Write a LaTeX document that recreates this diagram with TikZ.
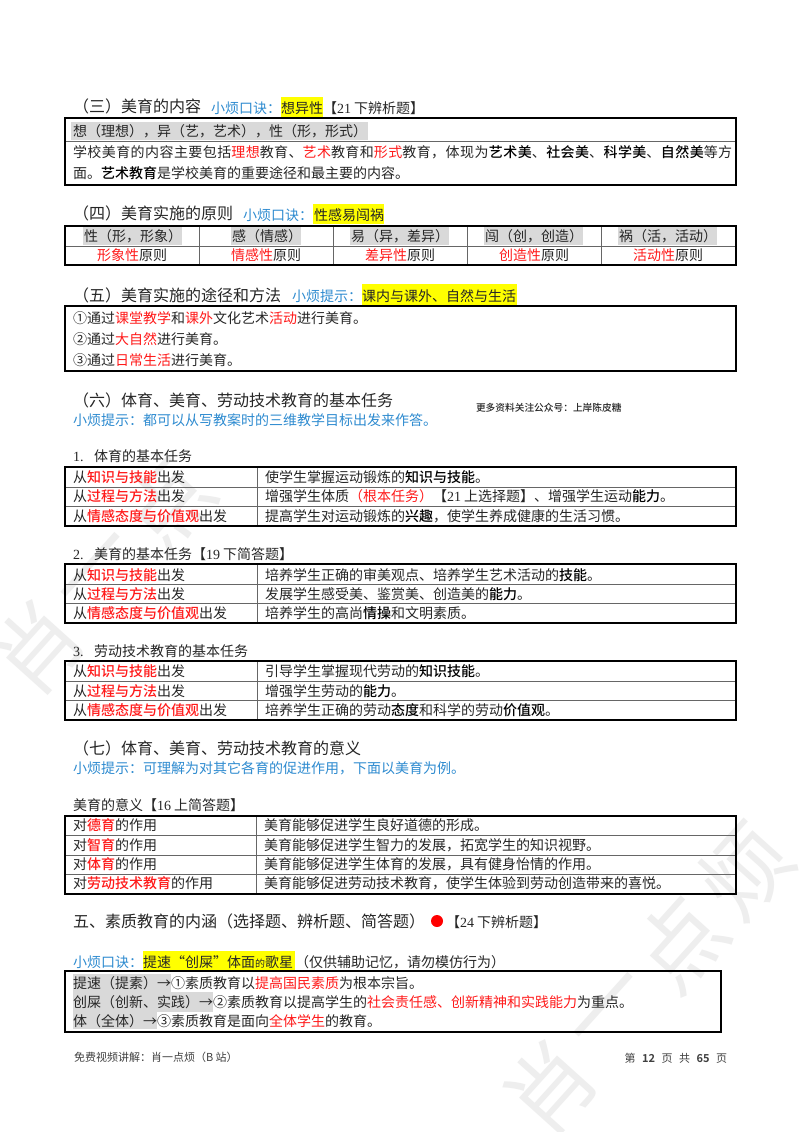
\documentclass[tikz,border=0pt]{standalone}
\usepackage{fontspec}
\setmainfont{Noto Sans CJK SC}[BoldFont={Noto Sans CJK SC Medium}]
\newfontfamily\lat{Liberation Serif}
\newfontfamily\spaced[LetterSpace=3.1,BoldFont={Noto Sans CJK SC Medium}]{Noto Sans CJK SC}
\newfontfamily\footbold{Noto Sans CJK SC Bold}
\definecolor{bodyc}{HTML}{262626}
\definecolor{redc}{HTML}{FF1A1A}
\definecolor{bluec}{HTML}{2E8BD0}
\definecolor{grayh}{HTML}{D9D9D9}
\definecolor{yel}{HTML}{FFFF00}
\definecolor{wm}{HTML}{EEEEEE}
\newcommand\Rd[1]{\textcolor{redc}{#1}}
\newcommand\RB[1]{\textbf{\textcolor{redc}{#1}}}
\newcommand\Bo[1]{\textbf{\textcolor{black}{#1}}}
\newcommand\Lt[1]{{\lat #1}}
\tikzset{
  txt/.style={anchor=base west,inner sep=0pt,outer sep=0pt,text=bodyc,font=\fontsize{14}{16}\selectfont},
  head/.style={txt,font=\fontsize{16}{18}\selectfont},
  tip/.style={txt,text=bluec},
  small/.style={txt,font=\fontsize{9.7}{11}\selectfont\bfseries},
  foot/.style={txt,text=black!75,font=\fontsize{11}{13}\selectfont},
  outer/.style={draw=black,line width=2pt},
  inner/.style={draw=black!60,line width=1pt},
  mark yellow/.style={fill=yel},
  mark gray/.style={fill=grayh},
  watermark/.style={anchor=center,inner sep=0pt,text=wm,rotate=48,font=\fontsize{88}{90}\selectfont},
}
\newcommand\Tx[3]{\node[txt] at (#1,{#2+5.2}) {#3};}
\newcommand\Hd[3]{\node[head] at (#1,{#2+5.8}) {#3};}
\newcommand\Tp[3]{\node[tip] at (#1,{#2+5.2}) {#3};}
\newcommand\Cc[3]{\node[txt,anchor=base] at (#1,{#2+5.2}) {#3};}
\newcommand\Yb[4]{\fill[mark yellow] (#1,#3) rectangle (#2,#4);}
\newcommand\Gb[4]{\fill[mark gray] (#1,#3) rectangle (#2,#4);}
% x1 x2 y1 y2 inner-ys col-x
\newcommand\Grid[6]{%
  \foreach \yy in {#5} {\draw[inner] (#1,\yy) -- (#2,\yy);}
  \draw[inner] (#6,#3) -- (#6,#4);
  \draw[outer] (#1,#3) rectangle (#2,#4);}
\newcommand\Threefold[3]{%
  \Tx{73}{#1}{从\RB{知识与技能}出发}
  \Tx{73}{#2}{从\RB{过程与方法}出发}
  \Tx{73}{#3}{从\RB{情感态度与价值观}出发}}
\begin{document}
\begin{tikzpicture}[x=1pt,y=-1pt]
\useasboundingbox (0,0) rectangle (800,1132);
\fill[white] (0,0) rectangle (800,1132);
% watermarks
\begin{scope}
\clip (0,0) rectangle (800,1132);
\node[watermark] (wa1) at (37,647) {肖};
\node[watermark] (wa2) at (102,575) {一};
\node[watermark] (wa3) at (167,503) {点};
\node[watermark] (wb1) at (550,1087) {肖};
\node[watermark] (wb2) at (615,1015) {一};
\node[watermark] (wb3) at (680,943) {点};
\node[watermark] (wb4) at (745,871) {烦};
\end{scope}

% section three
\Yb{281}{323}{97}{117}
\Hd{73}{107}{（三）美育的内容}
\Tp{211}{108}{小烦口诀：}
\Tx{281}{108}{想异性}
\Tx{323}{108}{【\Lt{21} 下辨析题】}
\Gb{71}{368}{122}{140}
\draw[inner] (65,141) -- (736,141);
\draw[outer] (65,118) rectangle (736,185);
\Tx{73}{131}{想（理想），异（艺，艺术），性（形，形式）}
\Tx{73}{152}{\spaced 学校美育的内容主要包括\Rd{理想}教育、\Rd{艺术}教育和\Rd{形式}教育，体现为\Bo{艺术美}、\Bo{社会美}、\Bo{科学美}、\Bo{自然美}等方}
\Tx{73}{173}{面。\Bo{艺术教育}是学校美育的重要途径和最主要的内容。}

% section four
\Yb{313}{384}{204}{224}
\Hd{73}{214}{（四）美育实施的原则}
\Tp{243}{215}{小烦口诀：}
\Tx{314}{215}{性感易闯祸}
\Gb{83}{182}{227}{245}
\Gb{231}{301}{227}{245}
\Gb{350}{449}{227}{245}
\Gb{484}{583}{227}{245}
\Gb{618}{717}{227}{245}
\draw[inner] (65,246) -- (736,246);
\foreach \cx in {199,333,467,601} {\draw[inner] (\cx,226) -- (\cx,265);}
\draw[outer] (65,226) rectangle (736,265);
\Tx{84}{236}{性（形，形象）}
\Tx{232}{236}{感（情感）}
\Tx{351}{236}{易（异，差异）}
\Tx{485}{236}{闯（创，创造）}
\Tx{619}{236}{祸（活，活动）}
\Cc{132}{255}{\Rd{形象性}原则}
\Cc{266}{255}{\Rd{情感性}原则}
\Cc{400}{255}{\Rd{差异性}原则}
\Cc{534}{255}{\Rd{创造性}原则}
\Cc{668}{255}{\Rd{活动性}原则}

% section five
\Yb{362}{517}{284}{305}
\Hd{73}{296}{（五）美育实施的途径和方法}
\Tp{292}{296}{小烦提示：}
\Tx{362}{296}{课内与课外、自然与生活}
\draw[outer] (65,306) rectangle (736,371);
\Tx{73}{318}{①通过\Rd{课堂教学}和\Rd{课外}文化艺术\Rd{活动}进行美育。}
\Tx{73}{339}{②通过\Rd{大自然}进行美育。}
\Tx{73}{360}{③通过\Rd{日常生活}进行美育。}

% section six
\Hd{73}{401}{（六）体育、美育、劳动技术教育的基本任务}
\Tp{73}{420}{小烦提示：都可以从写教案时的三维教学目标出发来作答。}
\node[small] at (476,411.5) {更多资料关注公众号：上岸陈皮糖};

\Tx{73}{456}{\makebox[21pt][l]{\Lt{1.}}体育的基本任务}
\Grid{65}{736}{467}{526}{487,506}{257}
\Threefold{477}{496}{516}
\Tx{265}{477}{使学生掌握运动锻炼的\Bo{知识与技能}。}
\Tx{265}{496}{增强学生体质\Rd{（根本任务）}【\Lt{21} 上选择题】、增强学生运动\Bo{能力}。}
\Tx{265}{516}{提高学生对运动锻炼的\Bo{兴趣}，使学生养成健康的生活习惯。}

\Tx{73}{554}{\makebox[21pt][l]{\Lt{2.}}美育的基本任务【\Lt{19} 下简答题】}
\Grid{65}{736}{564}{623}{584,603}{257}
\Threefold{575}{594}{613}
\Tx{265}{575}{培养学生正确的审美观点、培养学生艺术活动的\Bo{技能}。}
\Tx{265}{594}{发展学生感受美、鉴赏美、创造美的\Bo{能力}。}
\Tx{265}{613}{培养学生的高尚\Bo{情操}和文明素质。}

\Tx{73}{651}{\makebox[21pt][l]{\Lt{3.}}劳动技术教育的基本任务}
\Grid{65}{736}{661}{720}{681,700}{257}
\Threefold{671}{691}{710}
\Tx{265}{671}{引导学生掌握现代劳动的\Bo{知识技能}。}
\Tx{265}{691}{增强学生劳动的\Bo{能力}。}
\Tx{265}{710}{培养学生正确的劳动\Bo{态度}和科学的劳动\Bo{价值观}。}

% section seven
\Hd{73}{749}{（七）体育、美育、劳动技术教育的意义}
\Tp{73}{768}{小烦提示：可理解为对其它各育的促进作用，下面以美育为例。}
\Tx{73}{805}{美育的意义【\Lt{16} 上简答题】}
\Grid{65}{736}{816}{894}{835,855,874}{256}
\Tx{73}{825}{对\RB{德育}的作用}
\Tx{73}{845}{对\RB{智育}的作用}
\Tx{73}{864}{对\RB{体育}的作用}
\Tx{73}{883}{对\RB{劳动技术教育}的作用}
\Tx{264}{825}{美育能够促进学生良好道德的形成。}
\Tx{264}{845}{美育能够促进学生智力的发展，拓宽学生的知识视野。}
\Tx{264}{864}{美育能够促进学生体育的发展，具有健身怡情的作用。}
\Tx{264}{883}{美育能够促进劳动技术教育，使学生体验到劳动创造带来的喜悦。}

% section V
\Hd{73}{922}{五、素质教育的内涵（选择题、辨析题、简答题）}
\fill[red] (437,921) circle (6);
\Tx{446}{922}{【\Lt{24} 下辨析题】}

\Yb{143}{295}{951}{970}
\Tp{73}{962}{小烦口诀：}
\Tx{143}{962}{\underline{提速}\makebox[14pt][r]{“}创屎\makebox[14pt][l]{”}体面{\fontsize{10}{12}\selectfont 的}歌星}
\Tx{295}{962}{（仅供辅助记忆，请勿模仿行为）}
\Gb{73}{171}{974}{992}
\Gb{73}{213}{992}{1012}
\Gb{73}{157}{1012}{1029}
\draw[outer] (65,971) rectangle (721,1032);
\Tx{73}{983}{提速（提素）→①素质教育以\Rd{提高国民素质}为根本宗旨。}
\Tx{73}{1002}{创屎（创新、实践）→②素质教育以提高学生的\Rd{社会责任感、创新精神和实践能力}为重点。}
\Tx{73}{1021}{体（全体）→③素质教育是面向\Rd{全体学生}的教育。}

% footer
\node[foot] at (74,1061) {免费视频讲解：肖一点烦（B 站）};
\node[foot,anchor=base east] at (727,1062) {第\hspace{6.5pt}{\footbold 12}\hspace{6.5pt}页\hspace{6.5pt}共\hspace{6.5pt}{\footbold 65}\hspace{6.5pt}页};
\end{tikzpicture}
\end{document}
